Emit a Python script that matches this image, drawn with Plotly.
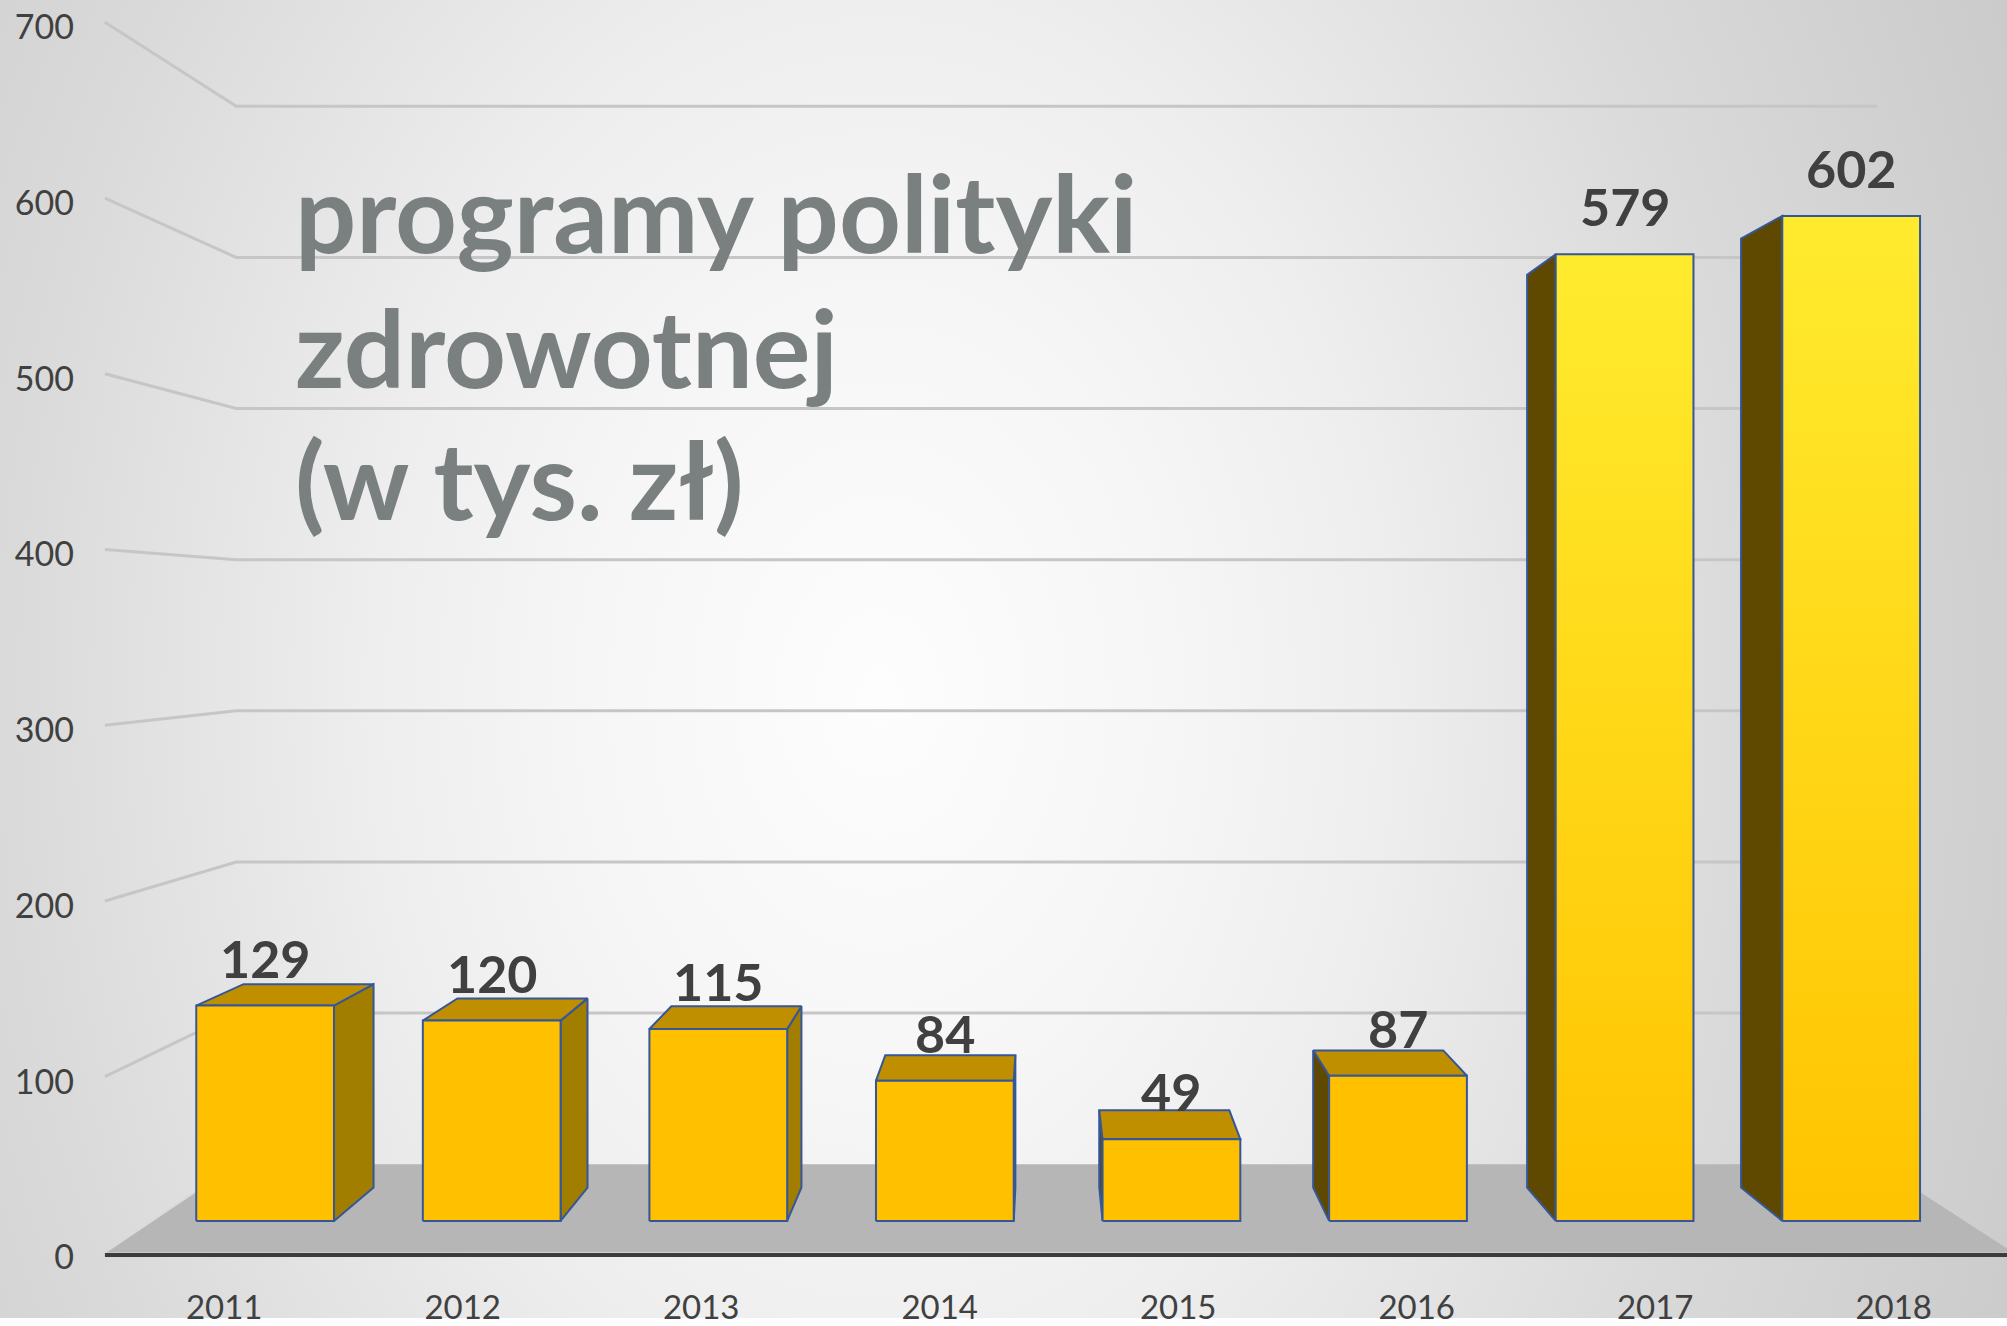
import base64
import plotly.graph_objects as go

# ---- data ----
years = ["2011", "2012", "2013", "2014", "2015", "2016", "2017", "2018"]
values = [129, 120, 115, 84, 49, 87, 579, 602]
y_ticks = [0, 100, 200, 300, 400, 500, 600, 700]
title_lines = ["programy polityki", "zdrowotnej", "(w tys. zł)"]

# ---- canvas ----
W, H = 2007, 1326

# ---- perspective scene ----
# horizontal unit = category index, vertical unit = value
VP_X, VP_Y = 3.433, 358.6          # vanishing point
S_AXIS, S_FRONT, S_BACK, S_WALL = 1.0, 0.95, 0.897, 0.86   # depth scales
HALF = 0.304                        # half bar width
X_RANGE = [-0.94, 7.475]
Y_RANGE = [-37.3, 712.7]

OUTLINE = "#35579a"
FRONT = "#FFC000"
TOP = "#BF8F00"
SIDE_R = "#A17D00"
SIDE_L = "#5F4800"
GRAD_BARS = {"2017", "2018"}
GRAD_SCALE = [[0, "#FFC300"], [1, "#FFEB2E"]]


def proj(x, v, s):
    return VP_X + (x - VP_X) * s, VP_Y + (v - VP_Y) * s


def closed(pts):
    xs = [p[0] for p in pts] + [pts[0][0]]
    ys = [p[1] for p in pts] + [pts[0][1]]
    return xs, ys


fig = go.Figure()

# floor
floor = [proj(-0.5, 0, S_AXIS), proj(7.5, 0, S_AXIS),
         proj(7.5, 0, S_WALL), proj(-0.5, 0, S_WALL)]
fx, fy = closed(floor)
fig.add_trace(go.Scatter(x=fx, y=fy, mode="lines", fill="toself",
                         fillcolor="#b6b6b6", line=dict(width=0),
                         hoverinfo="skip", showlegend=False))

# gridlines: slanted side segment + back wall segment
gx, gy = [], []
for t in y_ticks[1:]:
    for p in (proj(-0.5, t, S_AXIS), proj(-0.5, t, S_WALL), proj(7.5, t, S_WALL)):
        gx.append(p[0]); gy.append(p[1])
    gx.append(None); gy.append(None)
fig.add_trace(go.Scatter(x=gx, y=gy, mode="lines",
                         line=dict(color="#c6c6c6", width=3),
                         hoverinfo="skip", showlegend=False))
z0 = [proj(-0.5, 0, S_AXIS), proj(-0.5, 0, S_WALL)]
fig.add_trace(go.Scatter(x=[p[0] for p in z0], y=[p[1] for p in z0], mode="lines",
                         line=dict(color="#dadada", width=2),
                         hoverinfo="skip", showlegend=False))

# bars as perspective boxes
for i, (yr, v) in enumerate(zip(years, values)):
    xl, xr = i - HALF, i + HALF
    faces = []
    if xr < VP_X:
        faces.append(([proj(xr, 0, S_FRONT), proj(xr, 0, S_BACK),
                       proj(xr, v, S_BACK), proj(xr, v, S_FRONT)], SIDE_R))
    elif xl > VP_X:
        faces.append(([proj(xl, 0, S_FRONT), proj(xl, 0, S_BACK),
                       proj(xl, v, S_BACK), proj(xl, v, S_FRONT)], SIDE_L))
    if v < VP_Y:
        faces.append(([proj(xl, v, S_FRONT), proj(xr, v, S_FRONT),
                       proj(xr, v, S_BACK), proj(xl, v, S_BACK)], TOP))
    for pts, col in faces:
        px, py = closed(pts)
        fig.add_trace(go.Scatter(x=px, y=py, mode="lines", fill="toself",
                                 fillcolor=col, line=dict(color=OUTLINE, width=2),
                                 hoverinfo="skip", showlegend=False))
    front = [proj(xl, 0, S_FRONT), proj(xr, 0, S_FRONT),
             proj(xr, v, S_FRONT), proj(xl, v, S_FRONT)]
    px, py = closed(front)
    kw = dict(fillcolor=FRONT)
    if yr in GRAD_BARS:
        kw = dict(fillgradient=dict(type="vertical", colorscale=GRAD_SCALE,
                                    start=front[0][1], stop=front[2][1]))
    fig.add_trace(go.Scatter(x=px, y=py, mode="lines", fill="toself",
                             line=dict(color=OUTLINE, width=2),
                             hoverinfo="skip", showlegend=False, **kw))
    # value label above the front face
    cx, cy = proj(i, v, S_FRONT)
    fig.add_annotation(x=cx, y=cy, xref="x", yref="y", text=str(v),
                       showarrow=False, yshift=48, yanchor="middle",
                       font=dict(family="Lato", size=52, color="#404040", weight="bold"))

# axis baseline
a0, a1 = proj(-0.5, 0, S_AXIS), proj(7.5, 0, S_AXIS)
fig.add_trace(go.Scatter(x=[a0[0], a1[0]], y=[a0[1] - 1.5, a1[1] - 1.5], mode="lines",
                         line=dict(color="#3c3c3c", width=4),
                         hoverinfo="skip", showlegend=False))

# title text
title_y = [212, 348, 481]
for line, ty in zip(title_lines, title_y):
    fig.add_annotation(x=293 / W, y=1 - ty / H, xref="paper", yref="paper",
                       text=line, showarrow=False, xanchor="left", yanchor="middle",
                       font=dict(family="Lato", size=108, color="#7a7f80", weight="bold"))

# soft elliptical background
bg_svg = (
    f'<svg xmlns="http://www.w3.org/2000/svg" width="{W}" height="{H}">'
    '<defs><radialGradient id="g" gradientUnits="userSpaceOnUse" cx="880" cy="700" r="1450" '
    'gradientTransform="translate(880 700) scale(1 1.38) translate(-880 -700)">'
    '<stop offset="0" stop-color="#fdfdfd"/>'
    '<stop offset="0.2" stop-color="#f6f6f6"/>'
    '<stop offset="0.35" stop-color="#eeeeee"/>'
    '<stop offset="0.6" stop-color="#dadada"/>'
    '<stop offset="0.78" stop-color="#cfcfcf"/>'
    '<stop offset="1" stop-color="#c2c2c2"/>'
    '</radialGradient></defs>'
    f'<rect width="{W}" height="{H}" fill="url(#g)"/></svg>'
)
bg_uri = "data:image/svg+xml;base64," + base64.b64encode(bg_svg.encode()).decode()

fig.update_layout(
    width=W, height=H,
    margin=dict(l=0, r=0, t=0, b=0),
    paper_bgcolor="#ffffff",
    plot_bgcolor="rgba(0,0,0,0)",
    showlegend=False,
    images=[dict(source=bg_uri, xref="paper", yref="paper", x=0, y=1,
                 sizex=1, sizey=1, sizing="stretch", layer="below")],
    xaxis=dict(range=X_RANGE, anchor="free", position=(H - 1293) / H,
               tickvals=list(range(len(years))), ticktext=years,
               ticks="", showgrid=False, zeroline=False, showline=False,
               tickfont=dict(family="Lato", size=33, color="#404040")),
    yaxis=dict(range=Y_RANGE, anchor="free", position=74 / W, side="left",
               tickvals=y_ticks, ticks="", showgrid=False, zeroline=False,
               showline=False, ticklabelshift=5,
               tickfont=dict(family="Lato", size=34, color="#404040")),
)

fig.write_html("out.html")
